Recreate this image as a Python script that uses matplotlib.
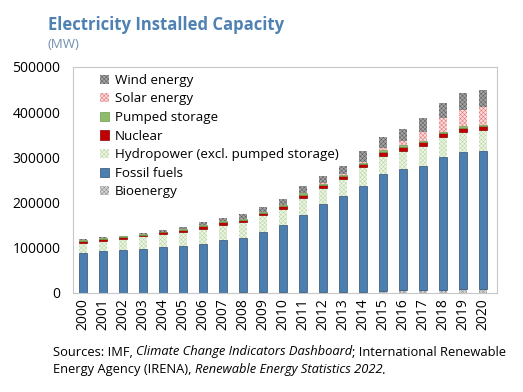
import matplotlib.pyplot as plt
import numpy as np

plt.rcParams['font.family'] = ['Open Sans', 'DejaVu Sans']
plt.rcParams['hatch.linewidth'] = 0.35

years = [str(y) for y in range(2000, 2021)]

# MW
bioenergy = [300, 400, 500, 600, 700, 800, 900, 1000, 1200, 1300, 1400, 1500,
             1700, 2200, 2200, 4400, 6600, 6600, 7700, 8800, 8000]
fossil = [87800, 91400, 95100, 97300, 101100, 104000, 108400, 117200, 121000,
          134300, 148200, 171900, 194700, 212400, 234500, 258100, 267000,
          274300, 293800, 303800, 306800]
hydro = [23400, 23500, 24300, 27300, 28000, 30200, 33200, 33200, 34500, 36100,
         36500, 37600, 36100, 37500, 41000, 41500, 41100, 44900, 44200, 44200,
         45800]
nuclear = [4500, 4500, 4000, 3500, 4500, 5000, 5500, 5500, 5500, 5500, 5500,
           6500, 7000, 6000, 7300, 9000, 8800, 8100, 8800, 8800, 8800]
pumped = [1500, 1500, 1500, 1500, 1500, 1500, 1500, 1500, 2500, 2500, 2500,
          3000, 2500, 2500, 2200, 2500, 3300, 2200, 2200, 3000, 3300]
solar = [0, 0, 0, 0, 0, 0, 0, 0, 0, 100, 200, 500, 1000, 2500, 3300, 5100,
         8800, 19200, 29600, 36000, 39000]
wind = [1200, 1500, 1700, 2100, 4000, 5000, 6500, 8500, 9500, 10400, 12600,
        15500, 16500, 18400, 23500, 25500, 28100, 32300, 34500, 37500, 38500]

# name, values, face, hatch, hatch colour
series = [
    ("Bioenergy", bioenergy, "#d4d4d4", "xxxxxxxx", "#8c8c8c"),
    ("Fossil fuels", fossil, "#4a7fb0", None, "#2f4f6f"),
    ("Hydropower (excl. pumped storage)", hydro, "#eef5e8", "xxxxxxxx", "#b5d69c"),
    ("Nuclear", nuclear, "#c00000", None, "#8b0000"),
    ("Pumped storage", pumped, "#8fbc6b", None, "#6f9a50"),
    ("Solar energy", solar, "#fadcdc", "xxxxxxxx", "#e57373"),
    ("Wind energy", wind, "#a3a3a3", "xxxxxxxx", "#5a5a5a"),
]

fig = plt.figure(figsize=(5.23, 3.92), dpi=100)
ax = fig.add_axes([0.1396, 0.2526, 0.8104, 0.5765])

x = np.arange(len(years))
bottom = np.zeros(len(years))
handles = []
for name, vals, face, hatch, hc in series:
    vals = np.array(vals, dtype=float)
    if hatch:
        b = ax.bar(x, vals, 0.42, bottom=bottom, color=face, hatch=hatch,
                   edgecolor=hc, linewidth=0, label=name)
    else:
        b = ax.bar(x, vals, 0.42, bottom=bottom, color=face,
                   edgecolor=hc, linewidth=0.5, label=name)
    handles.append(b)
    bottom += vals

ax.set_xlim(-0.5, 20.7)
ax.set_ylim(0, 500000)
ax.set_yticks(range(0, 500001, 100000))
ax.set_xticks(x)
ax.set_xticklabels(years, rotation=90)
ax.tick_params(length=0, labelsize=10, colors="black")
ax.tick_params(axis="y", pad=9)
ax.tick_params(axis="x", pad=4)
for s in ax.spines.values():
    s.set_color("#c8c8c8")
    s.set_linewidth(0.8)

ax.legend(handles[::-1], [s[0] for s in series][::-1], loc="upper left",
          bbox_to_anchor=(0.045, 1.005), frameon=False, fontsize=9.6,
          handlelength=0.7, handleheight=0.7, handletextpad=0.4,
          labelspacing=0.42, borderaxespad=0.2)

fig.text(48 / 523, 1 - 25 / 392, "Electricity Installed Capacity",
         fontsize=12, fontweight="bold", color="#4f81b3", va="center")
fig.text(48 / 523, 1 - 45 / 392, "(MW)", fontsize=9.5, color="#6f8fb0",
         va="center")

fig.canvas.draw()
r = fig.canvas.get_renderer()


def line(parts, x0, y0):
    # source note: upright and italic pieces placed one after another
    xx = x0
    for txt, st in parts:
        t = fig.text(xx, y0, txt, fontsize=9.3, style=st, va="center")
        bb = t.get_window_extent(renderer=r)
        xx += bb.width / fig.bbox.width


line([("Sources: IMF, ", "normal"),
      ("Climate Change Indicators Dashboard", "italic"),
      ("; International Renewable", "normal")], 53 / 523, 1 - 352 / 392)
line([("Energy Agency (IRENA), ", "normal"),
      ("Renewable Energy Statistics 2022", "italic"),
      (".", "normal")], 53 / 523, 1 - 370 / 392)

fig.savefig("out.png", dpi=100)
